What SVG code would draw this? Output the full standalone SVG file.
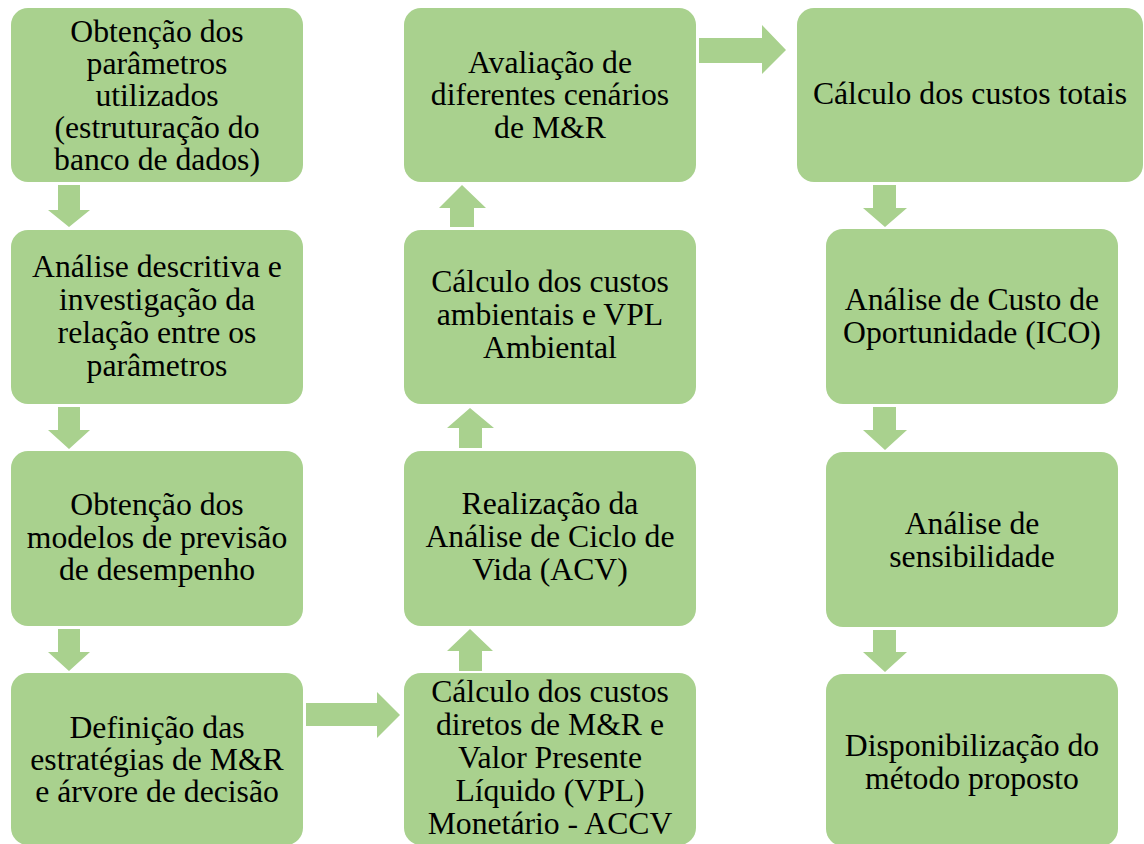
<svg xmlns="http://www.w3.org/2000/svg" width="1144" height="844" viewBox="0 0 1144 844">
<style>
.box{fill:#A9D18E;}
.arr{fill:#A9D18E;}
text{font-family:"Liberation Serif","Times New Roman",serif;font-size:31.7px;fill:#000;text-anchor:middle;}
</style>
<rect width="1144" height="844" fill="#fff"/>
<g id="connectors">
<polygon class="arr" points="58,185 80,185 80,210 90,210 69,227 48,210 58,210"/>
<polygon class="arr" points="58,407 80,407 80,430 90,430 69,449 48,430 58,430"/>
<polygon class="arr" points="58,629 80,629 80,652 90,652 69,671 48,652 58,652"/>
<polygon class="arr" points="306,703 377,703 377,692 400,715 377,738 377,726 306,726"/>
<polygon class="arr" points="459,671 482,671 482,651 493,651 470,629 447,651 459,651"/>
<polygon class="arr" points="459,448 482,448 482,428 494,428 470,408 447,428 459,428"/>
<polygon class="arr" points="450,227 474,227 474,208 486,208 462,185 439,208 450,208"/>
<polygon class="arr" points="699,38 762,38 762,25 786,50 762,74 762,63 699,63"/>
<polygon class="arr" points="873,185 896,185 896,208 907,208 885,227 863,208 873,208"/>
<polygon class="arr" points="873,407 896,407 896,430 907,430 885,450 863,430 873,430"/>
<polygon class="arr" points="873,630 896,630 896,652 907,652 885,672 863,652 873,652"/>
</g>
<g id="n1">
<rect class="box" x="11" y="8" width="292" height="174" rx="17"/>
<text x="157" y="41.5">Obtenção dos</text>
<text x="157" y="73.5">parâmetros</text>
<text x="157" y="105.5">utilizados</text>
<text x="157" y="137.5">(estruturação do</text>
<text x="157" y="169.5">banco de dados)</text>
</g>
<g id="n2">
<rect class="box" x="11" y="230" width="292" height="174" rx="17"/>
<text x="157" y="277">Análise descritiva e</text>
<text x="157" y="310">investigação da</text>
<text x="157" y="343">relação entre os</text>
<text x="157" y="376">parâmetros</text>
</g>
<g id="n3">
<rect class="box" x="11" y="451" width="292" height="175" rx="17"/>
<text x="157" y="515">Obtenção dos</text>
<text x="157" y="547.5">modelos de previsão</text>
<text x="157" y="579.5">de desempenho</text>
</g>
<g id="n4">
<rect class="box" x="11" y="673" width="292" height="172" rx="17"/>
<text x="157" y="737.5">Definição das</text>
<text x="157" y="770">estratégias de M&amp;R</text>
<text x="157" y="802">e árvore de decisão</text>
</g>
<g id="n5">
<rect class="box" x="404" y="673" width="292" height="172" rx="17"/>
<text x="550" y="702">Cálculo dos custos</text>
<text x="550" y="735">diretos de M&amp;R e</text>
<text x="550" y="768">Valor Presente</text>
<text x="550" y="801">Líquido (VPL)</text>
<text x="550" y="834">Monetário - ACCV</text>
</g>
<g id="n6">
<rect class="box" x="404" y="451" width="292" height="175" rx="17"/>
<text x="550" y="513.5">Realização da</text>
<text x="550" y="546.5">Análise de Ciclo de</text>
<text x="550" y="579.5">Vida (ACV)</text>
</g>
<g id="n7">
<rect class="box" x="404" y="230" width="292" height="174" rx="17"/>
<text x="550" y="292">Cálculo dos custos</text>
<text x="550" y="325">ambientais e VPL</text>
<text x="550" y="358">Ambiental</text>
</g>
<g id="n8">
<rect class="box" x="404" y="8" width="292" height="174" rx="17"/>
<text x="550" y="72.5">Avaliação de</text>
<text x="550" y="105">diferentes cenários</text>
<text x="550" y="137.5">de M&amp;R</text>
</g>
<g id="n9">
<rect class="box" x="797" y="8" width="346" height="174" rx="17"/>
<text x="970" y="103.5">Cálculo dos custos totais</text>
</g>
<g id="n10">
<rect class="box" x="826" y="229" width="292" height="175" rx="17"/>
<text x="972" y="310">Análise de Custo de</text>
<text x="972" y="343">Oportunidade (ICO)</text>
</g>
<g id="n11">
<rect class="box" x="826" y="452" width="292" height="175" rx="17"/>
<text x="972" y="534">Análise de</text>
<text x="972" y="566.5">sensibilidade</text>
</g>
<g id="n12">
<rect class="box" x="826" y="674" width="292" height="172" rx="17"/>
<text x="972" y="756">Disponibilização do</text>
<text x="972" y="788.5">método proposto</text>
</g>
</svg>
